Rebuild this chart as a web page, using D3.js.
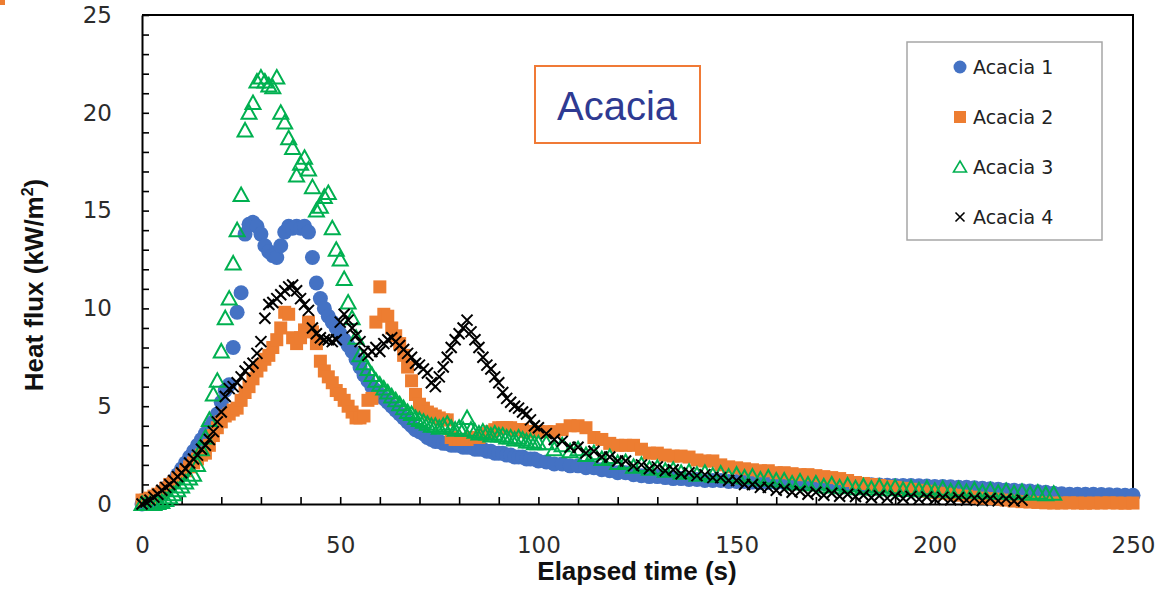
<!DOCTYPE html>
<html>
<head>
<meta charset="utf-8">
<script src="https://cdnjs.cloudflare.com/ajax/libs/d3/7.8.5/d3.min.js"></script>
<style>
  html, body { margin: 0; padding: 0; background: #fff; }
  svg { display: block; }
</style>
</head>
<body>
<svg id="chart" width="1176" height="589"></svg>
<script>
// elapsed time (s): 1 s steps to 100 s, then 2 s steps
const seconds = [
  0, 1, 2, 3, 4, 5, 6, 7, 8, 9,
  10, 11, 12, 13, 14, 15, 16, 17, 18, 19,
  20, 21, 22, 23, 24, 25, 26, 27, 28, 29,
  30, 31, 32, 33, 34, 35, 36, 37, 38, 39,
  40, 41, 42, 43, 44, 45, 46, 47, 48, 49,
  50, 51, 52, 53, 54, 55, 56, 57, 58, 59,
  60, 61, 62, 63, 64, 65, 66, 67, 68, 69,
  70, 71, 72, 73, 74, 75, 76, 77, 78, 79,
  80, 81, 82, 83, 84, 85, 86, 87, 88, 89,
  90, 91, 92, 93, 94, 95, 96, 97, 98, 99,
  100,
  102, 104, 106, 108, 110, 112, 114, 116, 118, 120,
  122, 124, 126, 128, 130, 132, 134, 136, 138, 140,
  142, 144, 146, 148, 150, 152, 154, 156, 158, 160,
  162, 164, 166, 168, 170, 172, 174, 176, 178, 180,
  182, 184, 186, 188, 190, 192, 194, 196, 198, 200,
  202, 204, 206, 208, 210, 212, 214, 216, 218, 220,
  222, 224, 226, 228, 230, 232, 234, 236, 238, 240,
  242, 244, 246, 248, 250
];

// heat flux (kW/m2)
const acacia1 = [
  0.0, 0.05, 0.1, 0.2, 0.4, 0.6, 0.8, 1.0, 1.2, 1.5,
  1.8, 2.1, 2.4, 2.7, 3.0, 3.3, 3.6, 3.9, 4.2, 4.6,
  5.2, 5.8, 6.1, 8.0, 9.8, 10.8, 13.8, 14.3, 14.4, 14.2,
  13.8, 13.2, 12.9, 12.7, 12.6, 13.2, 13.9, 14.2, 14.1, 14.2,
  14.1, 14.2, 13.9, 12.6, 11.3, 10.5, 10.0, 9.6, 9.3, 9.0,
  8.7, 8.4, 8.1, 7.8, 7.4, 7.0, 6.6, 6.3, 6.0, 5.8,
  5.6, 5.4, 5.2, 5.0, 4.8, 4.6, 4.4, 4.2, 4.0, 3.8,
  3.7, 3.6, 3.4, 3.3, 3.2, 3.2, 3.1, 3.1, 3.0, 3.0,
  3.0, 2.9, 2.9, 2.9, 2.8, 2.8, 2.8, 2.7, 2.7, 2.6,
  2.6, 2.6, 2.5, 2.5, 2.4, 2.4, 2.4, 2.3, 2.3, 2.3,
  2.2,
  2.15, 2.05, 2.05, 1.95, 1.95, 1.85, 1.85, 1.75, 1.7, 1.6,
  1.6, 1.5, 1.45, 1.4, 1.4, 1.35, 1.3, 1.3, 1.25, 1.25,
  1.2, 1.2, 1.2, 1.15, 1.15, 1.15, 1.12, 1.1, 1.1, 1.1,
  1.1, 1.08, 1.08, 1.07, 1.06, 1.05, 1.04, 1.02, 1.0, 1.0,
  0.98, 0.98, 0.97, 0.96, 0.95, 0.95, 0.94, 0.93, 0.92, 0.9,
  0.9, 0.88, 0.86, 0.85, 0.83, 0.8, 0.78, 0.76, 0.72, 0.7,
  0.68, 0.66, 0.62, 0.6, 0.55, 0.52, 0.5, 0.5, 0.5, 0.5,
  0.48, 0.47, 0.46, 0.45, 0.45
];

const acacia2 = [
  0.2, 0.2, 0.3, 0.4, 0.5, 0.6, 0.8, 1.0, 1.1, 1.3,
  1.5, 1.7, 1.9, 2.1, 2.3, 2.5, 2.6, 3.0, 3.5, 3.9,
  4.2, 4.5, 4.6, 4.8, 4.9, 5.3, 5.7, 6.0, 6.4, 6.8,
  7.1, 7.4, 7.6, 8.0, 8.4, 9.0, 9.8, 9.7, 8.5, 8.2,
  8.5, 8.9, 9.3, 8.8, 8.2, 7.3, 6.8, 6.5, 6.2, 5.8,
  5.6, 5.3, 5.0, 4.7, 4.4, 4.4, 4.5, 5.3, 5.4, 9.3,
  11.1, 9.7, 9.6, 9.0, 8.6, 8.2, 7.6, 7.0, 6.3, 5.6,
  5.1, 4.9, 4.7, 4.6, 4.5, 4.4, 4.3, 4.3, 3.4, 3.3,
  3.3, 3.3, 3.3, 3.4, 3.4, 3.4, 3.5, 3.6, 3.7, 3.8,
  3.9, 3.9, 3.9, 3.9, 3.8, 3.8, 3.8, 3.7, 3.7, 3.7,
  3.7,
  3.7, 3.7, 3.8, 4.0, 4.0, 3.9, 3.4, 3.3, 3.1, 3.0,
  3.0, 3.0, 2.8, 2.6, 2.6, 2.5, 2.45, 2.45, 2.4, 2.25,
  2.2, 2.2, 2.0, 1.9, 1.85, 1.8, 1.75, 1.7, 1.7, 1.6,
  1.6, 1.55, 1.5, 1.5, 1.45, 1.4, 1.35, 1.3, 1.2, 1.1,
  1.05, 1.0, 0.95, 0.9, 0.85, 0.8, 0.75, 0.7, 0.65, 0.6,
  0.55, 0.5, 0.45, 0.4, 0.35, 0.3, 0.28, 0.25, 0.2, 0.15,
  0.12, 0.1, 0.08, 0.06, 0.05, 0.05, 0.06, 0.05, 0.04, 0.05,
  0.05, 0.06, 0.05, 0.04, 0.05
];

const acacia3 = [
  0.0, 0.0, 0.0, 0.0, 0.05, 0.1, 0.2, 0.35, 0.5, 0.7,
  0.9, 1.1, 1.3, 1.5, 2.0, 2.8, 3.4, 4.3, 5.6, 6.3,
  7.8, 9.5, 10.5, 12.3, 14.0, 15.8, 19.1, 20.0, 20.5, 21.6,
  21.8, 21.6, 21.4, 21.3, 21.8, 20.0, 19.5, 18.7, 18.2, 16.8,
  17.4, 17.7, 17.1, 16.2, 15.0, 15.2, 15.7, 15.9, 14.1, 13.0,
  12.5, 11.5, 10.3, 9.5, 8.5, 7.6, 7.2, 6.9, 6.6, 6.3,
  6.1, 5.9, 5.7, 5.5, 5.3, 5.1, 4.9, 4.7, 4.6, 4.4,
  4.3, 4.2, 4.1, 4.0, 4.0, 3.9, 4.0, 4.1, 3.9, 3.8,
  3.9, 3.8, 4.4, 3.8, 3.7, 3.6, 3.7, 3.6, 3.5, 3.6,
  3.5, 3.5, 3.4, 3.4, 3.3, 3.4, 3.3, 3.2, 3.2, 3.1,
  3.1,
  3.1, 2.8, 3.0, 2.7, 2.8, 2.5, 2.6, 2.3, 2.4, 2.1,
  2.15, 1.9, 2.0, 1.8, 1.85, 1.7, 1.75, 1.6, 1.65, 1.5,
  1.6, 1.45, 1.55, 1.4, 1.5, 1.35, 1.4, 1.25, 1.35, 1.2,
  1.2, 1.05, 1.15, 1.0, 1.05, 0.9, 1.0, 0.85, 0.95, 0.8,
  0.9, 0.78, 0.88, 0.75, 0.85, 0.72, 0.82, 0.7, 0.8, 0.68,
  0.78, 0.65, 0.75, 0.62, 0.72, 0.6, 0.7, 0.58, 0.66, 0.55,
  0.62, 0.52, 0.58, 0.5, 0.52
];

const acacia4 = [
  0.0, 0.1, 0.2, 0.35, 0.5, 0.7, 0.85, 1.0, 1.2, 1.4,
  1.6, 1.8, 2.1, 2.3, 2.5, 2.8, 3.0, 3.3, 3.7, 4.2,
  4.7, 5.5, 5.9, 6.0, 6.2, 6.5, 6.8, 7.0, 7.2, 7.7,
  8.3, 9.5, 10.2, 10.3, 10.5, 10.7, 10.9, 11.1, 11.2, 10.9,
  10.5, 10.2, 9.9, 9.0, 8.7, 8.5, 8.4, 8.4, 8.3, 8.4,
  9.3, 9.7, 9.4, 9.0, 8.6, 8.3, 7.8, 7.6, 7.8, 8.0,
  7.8, 8.2, 8.4, 8.5, 8.3, 8.1, 7.9, 7.7, 7.5, 7.2,
  7.1, 6.9, 6.7, 6.2, 6.0, 6.5, 7.0, 7.5, 8.0, 8.4,
  8.7, 9.0, 9.4, 8.8, 8.4, 8.0, 7.5, 7.1, 6.9, 6.5,
  6.2, 5.7, 5.4, 5.2, 5.0, 4.9, 4.7, 4.6, 4.3, 4.0,
  3.9,
  3.6, 3.3, 3.2, 2.9, 2.9, 2.6, 2.7, 2.4, 2.4, 2.2,
  2.2, 1.95, 2.0, 1.8, 1.9, 1.7, 1.75, 1.55, 1.6, 1.45,
  1.5, 1.35, 1.35, 1.2, 1.2, 1.0, 1.0, 0.85, 0.85, 0.7,
  0.75, 0.6, 0.65, 0.5, 0.6, 0.45, 0.55, 0.4, 0.5, 0.38,
  0.45, 0.32, 0.42, 0.3, 0.4, 0.28, 0.38, 0.25, 0.36, 0.24,
  0.34, 0.22, 0.32, 0.2, 0.3, 0.18, 0.28, 0.16, 0.26, 0.15,
  0.2
];

const seriesNames = ['Acacia 1', 'Acacia 2', 'Acacia 3', 'Acacia 4'];
const seriesValues = [acacia1, acacia2, acacia3, acacia4];
const xTicks = [0, 50, 100, 150, 200, 250];
const yTicks = [0, 5, 10, 15, 20, 25];

const colors = ['#4472C4', '#ED7D31', '#00B050', '#000000'];

const svg = d3.select('#chart');
const width = 1176;
const height = 589;
const margin = { left: 142, right: 43, top: 15, bottom: 85 };

// slide corner mark
svg.append('rect').attr('x', 0).attr('y', 0).attr('width', 5).attr('height', 5).attr('fill', '#ED7D31');

const x = d3.scaleLinear().domain([0, 250]).range([margin.left, width - margin.right]);
const y = d3.scaleLinear().domain([0, 25]).range([height - margin.bottom, margin.top]);

// 坐标轴 (minor ticks inside every 10 s / 1 kW)
const xAxis = d3.axisBottom(x)
  .tickValues(d3.range(0, 251, 10))
  .tickSizeInner(-7)
  .tickSizeOuter(0)
  .tickPadding(33)
  .tickFormat(d => xTicks.includes(d) ? d : '');
const gx = svg.append('g')
  .attr('transform', `translate(0 ${y(0)})`)
  .call(xAxis);

const yAxis = d3.axisLeft(y)
  .tickValues(d3.range(0, 26, 1))
  .tickSizeInner(-7)
  .tickSizeOuter(0)
  .tickPadding(30)
  .tickFormat(d => yTicks.includes(d) ? d : '');
const gy = svg.append('g')
  .attr('transform', `translate(${x(0)} 0)`)
  .call(yAxis);

[gx, gy].forEach(g => {
  g.attr('font-family', '"DejaVu Sans", sans-serif').attr('font-size', 23);
  g.selectAll('text').attr('fill', '#2b2b2b');
  g.selectAll('.tick line').attr('stroke', '#000').attr('stroke-width', 1.6);
  g.select('.domain').attr('stroke', '#000').attr('stroke-width', 2);
});
gx.selectAll('.tick line').filter(d => d === 0 || d === 250).remove();
gy.selectAll('.tick line').filter(d => d === 0).remove();

// frame top and right
svg.append('path')
  .attr('d', `M${x(0)},${y(25)} H${x(250)} V${y(0)}`)
  .attr('fill', 'none')
  .attr('stroke', '#000')
  .attr('stroke-width', 2);

// axis titles
svg.append('text')
  .attr('x', 637)
  .attr('y', 580)
  .attr('text-anchor', 'middle')
  .attr('font-family', '"Liberation Sans", Arial, sans-serif')
  .attr('font-weight', 'bold')
  .attr('font-size', 26)
  .attr('fill', '#111')
  .text('Elapsed time (s)');

const yTitle = svg.append('text')
  .attr('transform', 'translate(43 285) rotate(-90)')
  .attr('text-anchor', 'middle')
  .attr('font-family', '"Liberation Sans", Arial, sans-serif')
  .attr('font-weight', 'bold')
  .attr('font-size', 26)
  .attr('fill', '#111');
yTitle.append('tspan').text('Heat flux (kW/m');
yTitle.append('tspan').attr('font-size', 16).attr('dy', -10).text('2');
yTitle.append('tspan').attr('dy', 10).text(')');

// marker shapes
const markers = [
  s => s.append('circle').attr('r', 7.5).attr('fill', colors[0]),
  s => s.append('rect').attr('x', -6.5).attr('y', -6.5).attr('width', 13).attr('height', 13).attr('fill', colors[1]),
  s => s.append('path').attr('d', 'M0,-7.5 L7.5,6 L-7.5,6 Z').attr('fill', 'none')
    .attr('stroke', colors[2]).attr('stroke-width', 2),
  s => s.append('path').attr('d', 'M-5.5,-5.5 L5.5,5.5 M-5.5,5.5 L5.5,-5.5').attr('fill', 'none')
    .attr('stroke', colors[3]).attr('stroke-width', 2)
];

// 散点
const plot = svg.append('g');
seriesValues.forEach((vals, si) => {
  const pts = vals.map((v, i) => ({ t: seconds[i], v }));
  const g = plot.append('g').attr('class', 'series-' + (si + 1));
  const p = g.selectAll('g').data(pts).enter().append('g')
    .attr('transform', d => `translate(${x(d.t)} ${y(d.v)})`);
  markers[si](p);
});

// title box
svg.append('rect')
  .attr('x', 535).attr('y', 66).attr('width', 165).attr('height', 77)
  .attr('fill', '#fff')
  .attr('stroke', '#F07A36')
  .attr('stroke-width', 2);
svg.append('text')
  .attr('x', 617).attr('y', 120)
  .attr('text-anchor', 'middle')
  .attr('font-family', '"Liberation Sans", Arial, sans-serif')
  .attr('font-size', 40)
  .attr('fill', '#2E3A92')
  .text('Acacia');

// legend
const legend = svg.append('g');
legend.append('rect')
  .attr('x', 907).attr('y', 42).attr('width', 195).attr('height', 198)
  .attr('fill', '#fff')
  .attr('stroke', '#a6a6a6')
  .attr('stroke-width', 1.5);
const legendMarkers = [
  s => s.append('circle').attr('r', 6.5).attr('fill', colors[0]),
  s => s.append('rect').attr('x', -6).attr('y', -6).attr('width', 12).attr('height', 12).attr('fill', colors[1]),
  s => s.append('path').attr('d', 'M0,-6 L6.5,5 L-6.5,5 Z').attr('fill', 'none')
    .attr('stroke', colors[2]).attr('stroke-width', 1.6),
  s => s.append('path').attr('d', 'M-4.5,-4.5 L4.5,4.5 M-4.5,4.5 L4.5,-4.5').attr('fill', 'none')
    .attr('stroke', colors[3]).attr('stroke-width', 1.6)
];
const item = legend.selectAll('g.item').data(seriesNames).enter().append('g')
  .attr('class', 'item')
  .attr('transform', (d, i) => `translate(960 ${67 + i * 50})`);
item.each(function (d, i) { legendMarkers[i](d3.select(this)); });
item.append('text')
  .attr('x', 13)
  .attr('y', 7)
  .attr('font-family', '"DejaVu Sans", sans-serif')
  .attr('font-size', 19)
  .attr('fill', '#222')
  .text(d => d);
</script>
</body>
</html>
